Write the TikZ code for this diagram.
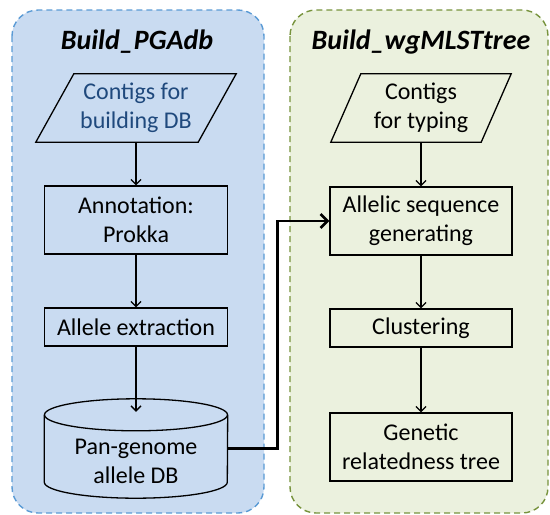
\documentclass[tikz,border=0pt]{standalone}
\usepackage{fontspec}
\setmainfont{Carlito}
\usetikzlibrary{arrows.meta,calc}
\definecolor{leftfill}{HTML}{C9DBF1}
\definecolor{leftborder}{HTML}{5B9BD5}
\definecolor{rightfill}{HTML}{EBF1DE}
\definecolor{rightborder}{HTML}{77933C}
\definecolor{darkblue}{HTML}{1F497D}
\tikzset{
  panel/.style={line width=1.4pt, dash pattern=on 6pt off 4pt, rounded corners=26pt},
  procbox/.style={draw, line width=1.3pt, rectangle, inner sep=0pt, align=center,
    minimum width=183pt, font=\fontsize{24}{29}\selectfont},
  txt/.style={inner sep=0pt, align=center, font=\fontsize{24}{29}\selectfont},
  titletxt/.style={inner sep=0pt, font=\fontsize{28}{32}\selectfont\bfseries\itshape},
  arr/.style={line width=1.3pt, -{Straight Barb[length=5pt,width=10pt,line width=1.3pt]}},
  thickarr/.style={line width=2.6pt, -{Straight Barb[length=7pt,width=14pt,line width=2.6pt]}},
  outline/.style={draw, line width=1.3pt, line join=miter}
}
\begin{document}
\begin{tikzpicture}[x=1pt,y=-1pt]
\useasboundingbox (0,0) rectangle (550,515);
% panels
\draw[panel, draw=leftborder, fill=leftfill] (12,10) rectangle (264,513);
\draw[panel, draw=rightborder, fill=rightfill] (290,10) rectangle (548,513);
% titles
\node[titletxt] (tL) at (137,42) {Build\_PGAdb};
\node[titletxt] (tR) at (421,42) {Build\_wgMLSTtree};
% left column
\node[txt, minimum width=200pt, minimum height=68pt, text=darkblue] (pL) at (136,108) {Contigs for\\building DB};
\draw[outline] (pL.south west) -- ([xshift=38pt]pL.north west) -- (pL.north east) -- ([xshift=-38pt]pL.south east) -- cycle;
\node[procbox, minimum height=68pt] (ann) at (136,220) {Annotation:\\Prokka};
\node[procbox, minimum height=38pt] (ext) at (136,327) {Allele extraction};
% cylinder
\node[txt, minimum width=183pt, minimum height=99pt] (cyl) at (136,448.5) {};
\draw[outline, fill=leftfill] (cyl.north west) ++(0,16) coordinate (cylTL) -- ($(cyl.south west)+(0,-16)$)
  arc[start angle=180, end angle=360, x radius=91.5pt, y radius=16pt]
  -- ($(cyl.north east)+(0,16)$);
\draw[outline] ($(cyl.north)+(0,16)$) ellipse [x radius=91.5pt, y radius=16pt];
\node[txt] (cylT) at (136,461) {Pan-genome\\allele DB};
\coordinate (cyltop) at ($(cyl.north)+(0,13)$);
% right column
\node[txt, minimum width=180pt, minimum height=68pt] (pR) at (421,108) {Contigs\\for typing};
\draw[outline] (pR.south west) -- ([xshift=30pt]pR.north west) -- (pR.north east) -- ([xshift=-30pt]pR.south east) -- cycle;
\node[procbox, minimum width=182pt, minimum height=68pt] (asg) at (421,221) {Allelic sequence\\generating};
\node[procbox, minimum width=182pt, minimum height=38pt] (clu) at (421,328) {Clustering};
\node[procbox, minimum width=182pt, minimum height=68pt] (gen) at (421,447) {Genetic\\relatedness tree};
% connectors
\draw[arr] (pL.south) -- (ann.north);
\draw[arr] (ann.south) -- (ext.north);
\draw[arr] (ext.south) -- (cyltop);
\draw[arr] (pR.south) -- (asg.north);
\draw[arr] (asg.south) -- (clu.north);
\draw[arr] (clu.south) -- (gen.north);
\draw[thickarr] (cyl.east) -- ++(50,0) |- (asg.west);
\end{tikzpicture}
\end{document}
